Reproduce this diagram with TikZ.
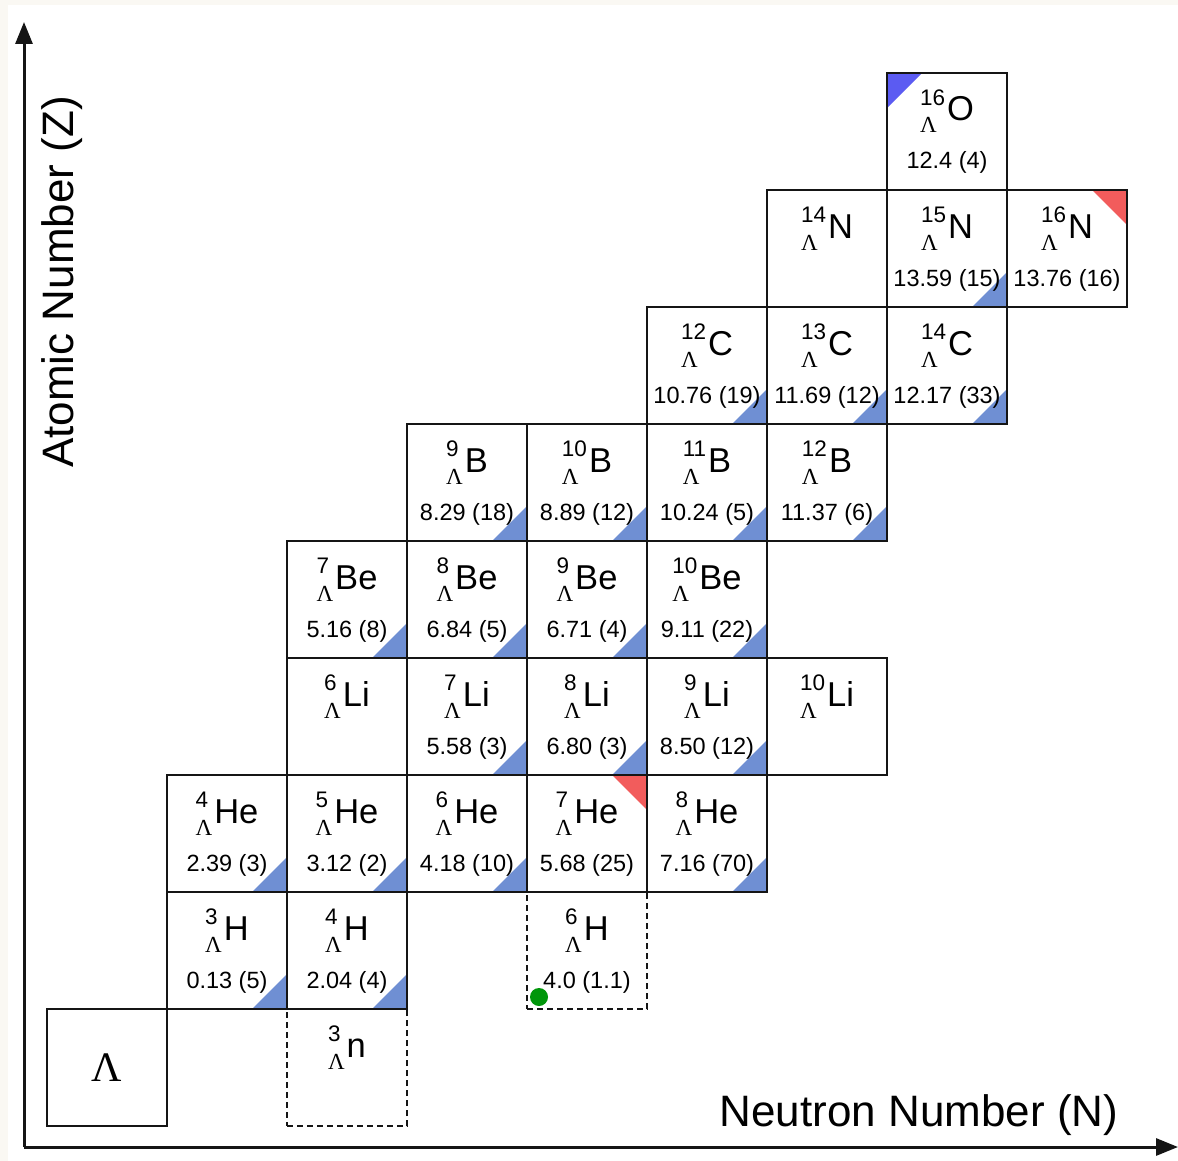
\documentclass[tikz,border=0pt]{standalone}
\usepackage{fontspec}
\setmainfont{Liberation Sans}
\newfontfamily\lamfont{Liberation Serif}
\usepackage{tikz}
\usetikzlibrary{arrows.meta}
\definecolor{hypInk}{HTML}{151515}
\definecolor{hypPaper}{HTML}{FAF8F3}
\definecolor{hypBlue}{HTML}{6F8FD3}
\definecolor{hypRed}{HTML}{F25C5C}
\definecolor{hypViolet}{HTML}{5B5BF2}
\definecolor{hypGreen}{HTML}{00960A}
% prescripts A (top) and Lambda (bottom), then the element symbol
\newcommand\nuc[2]{%
  \setbox0\hbox{\fontsize{22.5}{22.5}\selectfont #1}%
  \setbox2\hbox{\lamfont\fontsize{23}{23}\selectfont Λ}%
  \dimen0=\wd0 \ifdim\wd2>\dimen0 \dimen0=\wd2\fi
  \hbox to\dimen0{\rlap{\raise16pt\box0}\lower12pt\box2\hss}\kern2pt
  {\fontsize{34.5}{34.5}\selectfont #2}}
% one cell of the chart: symbol line and binding energy line
\newcommand\hyp[3]{\vbox to 117pt{\offinterlineskip\kern48pt
  \hbox to 120pt{\hss\smash{\nuc{#1}{#2}}\hss}\kern48pt
  \hbox to 120pt{\hss\smash{\fontsize{23.5}{23.5}\selectfont #3}\hss}\vss}}
\tikzset{
  hyp/cell/.style={draw=hypInk, line width=2.8pt, inner sep=0pt, outer sep=0pt,
    minimum width=120pt, minimum height=117pt},
  hyp/guess/.style={hyp/cell, line width=2.5pt, dash pattern=on 6pt off 4pt},
  hyp/done/.style={path picture={\fill[hypBlue]
    (path picture bounding box.south east) -- ++(-35pt,0pt) -- ++(35pt,35pt) -- cycle;}},
  hyp/new/.style={path picture={\fill[hypRed]
    (path picture bounding box.north east) -- ++(-35pt,0pt) -- ++(35pt,-35pt) -- cycle;}},
  hyp/first/.style={path picture={\fill[hypViolet]
    (path picture bounding box.north west) -- ++(35pt,0pt) -- ++(-35pt,-35pt) -- cycle;}},
  hyp/axis/.style={-{Triangle[length=22pt,width=17pt]}, draw=hypInk, line width=3pt},
  hyp/axislabel/.style={font=\fontsize{44}{44}\selectfont, anchor=base, inner sep=0pt},
  hyp/dot/.style={circle, fill=hypGreen, inner sep=0pt, minimum size=18pt},
}

\begin{document}
\begin{tikzpicture}[x=1pt, y=-1pt]
\useasboundingbox (0,0) rectangle (1178,1161);
\fill[hypPaper] (0,0) rectangle (1178,1161);
\fill[white] (8,5) rectangle (1178,1161);

% axes
\coordinate (origin) at (24,1147);
\coordinate (ztip) at (24,22);
\coordinate (ntip) at (1178,1147);
\draw[hyp/axis] (origin) -- (ztip);
\draw[hyp/axis] (origin) -- (ntip);
\node[hyp/axislabel, rotate=90] (zlabel) at (73,282) {Atomic Number (Z)};
\node[hyp/axislabel] (nlabel) at (919,1126) {Neutron Number (N)};

% predicted / disputed states first, so that solid edges sit on top
\node[hyp/guess] (h6) at (587,950.5) {\hyp{6}{H}{4.0 (1.1)}};
\node[hyp/guess] (n3) at (347,1067.5) {\hyp{3}{n}{}};

\node[hyp/cell, font=\lamfont\fontsize{42}{42}\selectfont] (lambda) at (107,1067.5) {Λ};

\node[hyp/cell, hyp/done] (h3) at (227,950.5) {\hyp{3}{H}{0.13 (5)}};
\node[hyp/cell, hyp/done] (h4) at (347,950.5) {\hyp{4}{H}{2.04 (4)}};

\node[hyp/cell, hyp/done] (he4) at (227,833.5) {\hyp{4}{He}{2.39 (3)}};
\node[hyp/cell, hyp/done] (he5) at (347,833.5) {\hyp{5}{He}{3.12 (2)}};
\node[hyp/cell, hyp/done] (he6) at (467,833.5) {\hyp{6}{He}{4.18 (10)}};
\node[hyp/cell, hyp/new] (he7) at (587,833.5) {\hyp{7}{He}{5.68 (25)}};
\node[hyp/cell, hyp/done] (he8) at (707,833.5) {\hyp{8}{He}{7.16 (70)}};

\node[hyp/cell] (li6) at (347,716.5) {\hyp{6}{Li}{}};
\node[hyp/cell, hyp/done] (li7) at (467,716.5) {\hyp{7}{Li}{5.58 (3)}};
\node[hyp/cell, hyp/done] (li8) at (587,716.5) {\hyp{8}{Li}{6.80 (3)}};
\node[hyp/cell, hyp/done] (li9) at (707,716.5) {\hyp{9}{Li}{8.50 (12)}};
\node[hyp/cell] (li10) at (827,716.5) {\hyp{10}{Li}{}};

\node[hyp/cell, hyp/done] (be7) at (347,599.5) {\hyp{7}{Be}{5.16 (8)}};
\node[hyp/cell, hyp/done] (be8) at (467,599.5) {\hyp{8}{Be}{6.84 (5)}};
\node[hyp/cell, hyp/done] (be9) at (587,599.5) {\hyp{9}{Be}{6.71 (4)}};
\node[hyp/cell, hyp/done] (be10) at (707,599.5) {\hyp{10}{Be}{9.11 (22)}};

\node[hyp/cell, hyp/done] (b9) at (467,482.5) {\hyp{9}{B}{8.29 (18)}};
\node[hyp/cell, hyp/done] (b10) at (587,482.5) {\hyp{10}{B}{8.89 (12)}};
\node[hyp/cell, hyp/done] (b11) at (707,482.5) {\hyp{11}{B}{10.24 (5)}};
\node[hyp/cell, hyp/done] (b12) at (827,482.5) {\hyp{12}{B}{11.37 (6)}};

\node[hyp/cell, hyp/done] (c12) at (707,365.5) {\hyp{12}{C}{10.76 (19)}};
\node[hyp/cell, hyp/done] (c13) at (827,365.5) {\hyp{13}{C}{11.69 (12)}};
\node[hyp/cell, hyp/done] (c14) at (947,365.5) {\hyp{14}{C}{12.17 (33)}};

\node[hyp/cell] (n14) at (827,248.5) {\hyp{14}{N}{}};
\node[hyp/cell, hyp/done] (n15) at (947,248.5) {\hyp{15}{N}{13.59 (15)}};
\node[hyp/cell, hyp/new] (n16) at (1067,248.5) {\hyp{16}{N}{13.76 (16)}};

\node[hyp/cell, hyp/first] (o16) at (947,131.5) {\hyp{16}{O}{12.4 (4)}};

\node[hyp/dot] (h6dot) at (539,997) {};
\end{tikzpicture}
\end{document}
